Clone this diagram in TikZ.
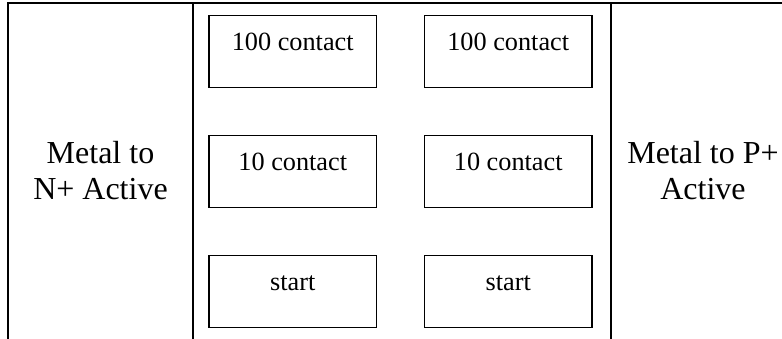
\documentclass[tikz,border=0pt]{standalone}
\usepackage{fontspec}
\setmainfont{Liberation Serif}
\usepackage{tikz}
\usetikzlibrary{positioning}
\tikzstyle{cell} = [rectangle, draw=black, line width=0.9pt, minimum width=125.6pt, minimum height=54pt, inner sep=0pt, outer sep=0pt, text height=26.25pt, text depth=27.75pt, font=\fontsize{19.7}{23}\selectfont]
\tikzstyle{side} = [align=center, inner sep=0pt, font=\fontsize{24}{27.5}\selectfont]
\tikzstyle{rule} = [line width=1.5pt]

\begin{document}
\begin{tikzpicture}[
    x=0.75pt, y=-0.75pt,
    node distance=36pt
]
\useasboundingbox (0,0) rectangle (782,339);

% Table rules
\coordinate (topleft) at (7.7,3);
\coordinate (topright) at (782,3);
\coordinate (botleft) at (7.7,339);
\coordinate (ntop) at (193.3,3);
\coordinate (nbot) at (193.3,339);
\coordinate (ptop) at (611,3);
\coordinate (pbot) at (611,339);

\draw [rule] (botleft) -- (topleft) -- (topright);
\draw [rule] (ntop) -- (nbot);
\draw [rule] (ptop) -- (pbot);

% Side labels
\node (nlabel) [side] at (100.5,170.7) {Metal to\\N+ Active};
\node (plabel) [side] at (703,170.7) {Metal to P+\\Active};

% Nodes
\node (n100) [cell] at (292.75,51.7) {100 contact};
\node (n10) [cell, below=of n100] {10 contact};
\node (nstart) [cell, below=of n10] {start};
\node (p100) [cell, right=of n100] {100 contact};
\node (p10) [cell, right=of n10] {10 contact};
\node (pstart) [cell, right=of nstart] {start};

\end{tikzpicture}
\end{document}
